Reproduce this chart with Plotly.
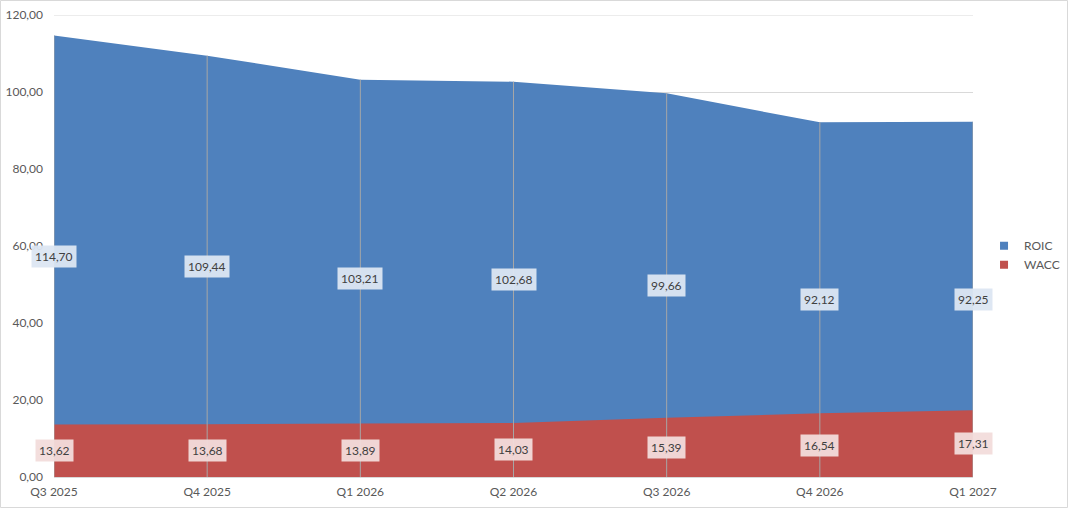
import plotly.graph_objects as go

# 数据
quarters = ['Q3 2025', 'Q4 2025', 'Q1 2026', 'Q2 2026', 'Q3 2026', 'Q4 2026', 'Q1 2027']
roic = [114.70, 109.44, 103.21, 102.68, 99.66, 92.12, 92.25]
wacc = [13.62, 13.68, 13.89, 14.03, 15.39, 16.54, 17.31]
y_ticks = [0, 20, 40, 60, 80, 100, 120]

W, H = 1068, 508
L, R, T, B = 54, 95, 15, 31
pw, ph = W - L - R, H - T - B

BLUE, RED = '#4F81BD', '#C0504D'


def fmt(v):
    return f'{v:.2f}'.replace('.', ',')


fig = go.Figure()
fig.add_trace(go.Scatter(x=quarters, y=roic, name='ROIC', mode='none',
                         fill='tozeroy', fillcolor=BLUE, showlegend=False))
fig.add_trace(go.Scatter(x=quarters, y=wacc, name='WACC', mode='none',
                         fill='tozeroy', fillcolor=RED, showlegend=False))

# 图例用的方块
for name, c in (('ROIC', BLUE), ('WACC', RED)):
    fig.add_trace(go.Scatter(x=[None], y=[None], name=name, mode='markers',
                             marker=dict(symbol='square', size=8, color=c)))

# 网格线 120
fig.add_shape(type='line', xref='paper', yref='y', x0=0, x1=1, y0=120, y1=120,
              line=dict(color='#D9D9D9', width=1), layer='below')

# 垂线 (drop lines)
for q, v in zip(quarters, roic):
    fig.add_shape(type='line', xref='x', yref='y', x0=q, x1=q, y0=0, y1=v,
                  line=dict(color='#A6A6A6', width=1), layer='above')

# 数据标签
for series, bg in ((roic, 'rgba(220,230,242,0.95)'), (wacc, 'rgba(242,220,219,0.95)')):
    for q, v in zip(quarters, series):
        fig.add_annotation(x=q, y=v / 2, text=fmt(v), showarrow=False,
                           bgcolor=bg, borderpad=3,
                           font=dict(size=12, color='#404040', family='Lato'))

# 外框
fig.add_shape(type='rect', xref='paper', yref='paper',
              x0=(0.5 - L) / pw, x1=(W - 0.5 - L) / pw,
              y0=-(B - 0.5) / ph, y1=(ph + T - 0.5) / ph,
              line=dict(color='#D9D9D9', width=1), layer='below')

fig.update_layout(
    width=W, height=H,
    margin=dict(l=L, r=R, t=T, b=B, autoexpand=False),
    paper_bgcolor='white', plot_bgcolor='white',
    separators=',.',
    font=dict(family='Lato', size=12, color='#595959'),
    xaxis=dict(type='category', range=[0, len(quarters) - 1], showgrid=False,
               showline=True, linecolor='#D9D9D9', ticks='', zeroline=False,
               automargin=False, ticklabelstandoff=4,
               tickfont=dict(size=12, color='#595959')),
    yaxis=dict(range=[0, 120], tickvals=y_ticks, tickformat='.2f',
               showgrid=True, gridcolor='#D9D9D9', zeroline=False, ticks='',
               automargin=False, ticklabelstandoff=10,
               tickfont=dict(size=12, color='#595959')),
    legend=dict(x=1.012, y=0.48, xanchor='left', yanchor='middle',
                font=dict(size=12, color='#595959'), itemwidth=30,
                tracegroupgap=6),
    showlegend=True,
)

fig.write_html('out.html', config={'displayModeBar': False},
               post_script="document.body.style.margin='0';")
